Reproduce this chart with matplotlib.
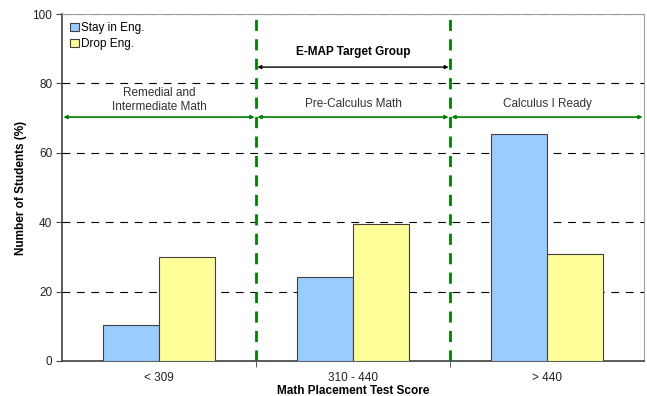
import matplotlib.pyplot as plt
import numpy as np

plt.rcParams['font.family'] = ['Liberation Sans', 'DejaVu Sans']

# placement score bands and percentage of students in each
categories = ["< 309", "310 - 440", "> 440"]
stay = [10.5, 24.3, 65.4]
drop = [30.0, 39.4, 30.9]
bands = ["Remedial and\nIntermediate Math", "Pre-Calculus Math", "Calculus I Ready"]

fs = 8.5
fig = plt.figure(figsize=(6.47, 3.96), dpi=100)
ax = fig.add_axes([0.0958, 0.0884, 0.8996, 0.8762])

x = np.arange(len(categories))
w = 0.29
ax.bar(x - w/2, stay, w, color="#99CCFF", edgecolor="#404040", linewidth=0.8, label="Stay in Eng.", zorder=3)
ax.bar(x + w/2, drop, w, color="#FFFF99", edgecolor="#404040", linewidth=0.8, label="Drop Eng.", zorder=3)

ax.set_xlim(-0.5, 2.5)
ax.set_ylim(0, 100)
ax.set_yticks(range(0, 101, 20))
ax.set_xticks(x)
ax.set_xticklabels(categories)
ax.set_xticks([0.5, 1.5], minor=True)
ax.tick_params(axis='x', which='major', length=0, pad=8, labelsize=fs, labelcolor="#222222")
ax.tick_params(axis='x', which='minor', length=4, color="#404040")
ax.tick_params(axis='y', length=4, color="#404040", labelsize=fs, labelcolor="#222222", pad=3)

# dashed grid lines
for v in range(20, 101, 20):
    ax.axhline(v, color="black", lw=0.8, ls=(0, (7, 6)), zorder=1)

for s in ['left', 'bottom']:
    ax.spines[s].set_color("#404040")
    ax.spines[s].set_linewidth(1.2)
for s in ['right', 'top']:
    ax.spines[s].set_color("#a0a0a0")

# band boundaries
for b in [0.5, 1.5]:
    ax.axvline(b, color="#008000", lw=2, ls=(0, (4, 3)), zorder=4)

# band arrows and labels
edges = [-0.5, 0.5, 1.5, 2.5]
for i in range(3):
    ax.annotate("", xy=(edges[i], 70.3), xytext=(edges[i+1], 70.3),
                arrowprops=dict(arrowstyle="<|-|>", color="#008000", lw=1.2,
                                mutation_scale=5, shrinkA=1, shrinkB=1))
ax.text(0, 71.4, bands[0], ha="center", va="bottom", fontsize=fs, color="#333333", linespacing=1.25)
ax.text(1, 72.2, bands[1], ha="center", va="bottom", fontsize=fs, color="#333333")
ax.text(2, 72.2, bands[2], ha="center", va="bottom", fontsize=fs, color="#333333")

ax.annotate("", xy=(0.5, 84.7), xytext=(1.5, 84.7),
            arrowprops=dict(arrowstyle="<|-|>", color="black", lw=1.0,
                            mutation_scale=5, shrinkA=1, shrinkB=1))
ax.text(1, 87.2, "E-MAP Target Group", ha="center", va="bottom", fontsize=fs, fontweight="bold")

ax.set_xlabel("Math Placement Test Score", fontsize=fs, fontweight="bold", labelpad=1)
ax.set_ylabel("Number of Students (%)", fontsize=fs, fontweight="bold", labelpad=4)

ax.legend(loc="upper left", frameon=False, fontsize=fs, handlelength=0.7, handleheight=0.7,
          handletextpad=0.2, borderaxespad=0.4, labelspacing=0.3, borderpad=0.3)

fig.savefig("out.png", dpi=100)
